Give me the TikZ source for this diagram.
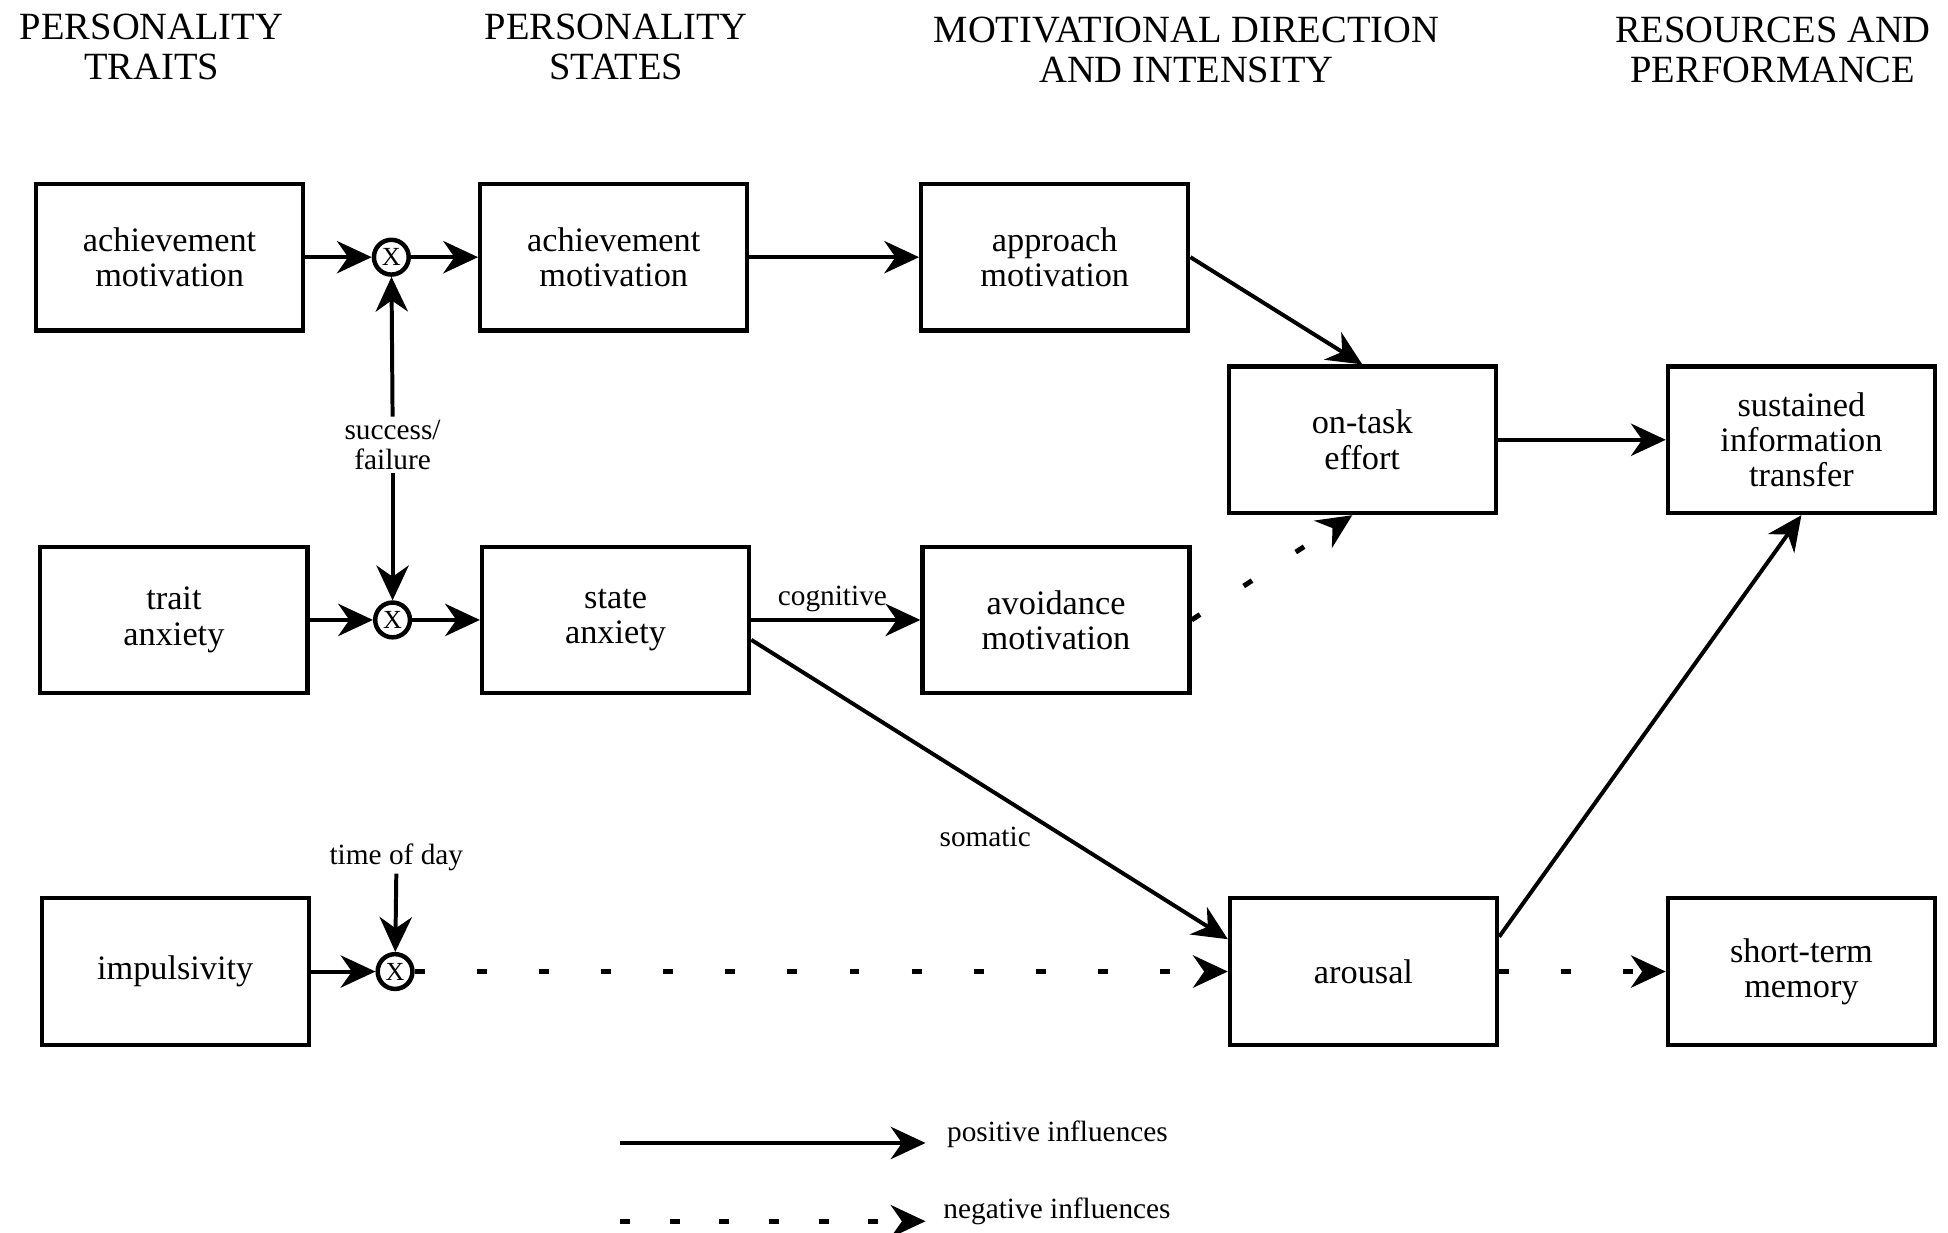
\documentclass[tikz,border=0pt]{standalone}
\usepackage{fontspec}
\setmainfont{Liberation Serif}
\usetikzlibrary{arrows.meta}
\newcommand\boxfont{\fontsize{13.8}{14.2}\selectfont}
\newcommand\headfont{\fontsize{15.5}{16}\selectfont}
\newcommand\labfont{\fontsize{11.8}{12.3}\selectfont}
\begin{document}
\begin{tikzpicture}[x=0.5pt,y=-0.5pt,
 box/.style={draw, line width=1.7pt, minimum width=107.5pt, minimum height=59pt, align=center, inner sep=0pt, font=\boxfont},
 head/.style={align=center, font=\headfont, inner sep=0pt},
 lab/.style={align=center, font=\labfont, inner sep=1pt},
 mult/.style={circle, draw, line width=1.8pt, minimum size=14pt, inner sep=0pt, font=\fontsize{10.5}{10.5}\selectfont},
 posarr/.style={line width=1.6pt, -{Stealth[length=14pt,width=13pt,inset=4.5pt]}},
 negarr/.style={posarr, line width=2pt, dash pattern=on 4pt off 21pt},
 negleg/.style={posarr, line width=2pt, dash pattern=on 4pt off 16pt},
]
\useasboundingbox (0,0) rectangle (1568,992);

% headers
\node[head] (h1) at (122,38) {PERSONALITY\\TRAITS};
\node[head] (h2) at (496,38) {PERSONALITY\\STATES};
\node[head] (h3) at (955,40) {MOTIVATIONAL DIRECTION\\AND INTENSITY};
\node[head] (h4) at (1427,40) {RESOURCES AND\\PERFORMANCE};

% boxes
\node[box] (A1) at (136.5,207) {achievement\\motivation};
\node[box] (A2) at (494,207) {achievement\\motivation};
\node[box] (AP) at (849,207) {approach\\motivation};
\node[box] (OT) at (1096.5,354) {on-task\\effort};
\node[box] (SI) at (1450,354) {sustained\\information\\transfer};
\node[box] (TA) at (140,499) {trait\\anxiety};
\node[box] (SA) at (495.5,499) {state\\anxiety};
\node[box] (AV) at (850,499) {avoidance\\motivation};
\node[box] (IM) at (141,782) {impulsivity};
\node[box] (AR) at (1097.5,782) {arousal};
\node[box] (ST) at (1450,782) {short-term\\memory};

% multipliers
\node[mult] (X1) at (315,207) {X};
\node[mult] (X2) at (316,499) {X};
\node[mult] (X3) at (318,782) {X};

% labels
\node[lab] (sf) at (316,358) {success/\\failure};
\node[lab] (td) at (319,690) {time of day};
\node[lab] (cog) at (670,482) {cognitive};
\node[lab] (som) at (793,674) {somatic};

% connectors
\draw[posarr] (A1) -- (X1);
\draw[posarr] (X1) -- (A2);
\draw[posarr] (TA) -- (X2);
\draw[posarr] (X2) -- (SA);
\draw[posarr] (IM) -- (X3);
\draw[posarr] (sf.north) -- (X1);
\draw[posarr] (sf.south) -- (X2);
\draw[posarr] (td.south) -- (X3);
\draw[negarr] (X3) -- (AR);
\draw[posarr] (A2) -- (AP);
\draw[posarr] (AP.east) -- (OT.north);
\draw[posarr] (SA) -- (AV);
\draw[posarr] ([yshift=-8pt]SA.east) -- ([yshift=13pt]AR.west);
\draw[negarr] (AV.east) -- ([xshift=-4pt]OT.south);
\draw[posarr] (OT) -- (SI);
\draw[posarr] ([yshift=14pt]AR.east) -- (SI.south);
\draw[negarr] (AR) -- (ST);

% legend
\coordinate (p1) at (499,920);
\coordinate (p2) at (745,920);
\coordinate (n1) at (499,983);
\coordinate (n2) at (745,983);
\node[lab, anchor=west] (pl) at (760,913) {positive influences};
\node[lab, anchor=west] (nl) at (757,975) {negative influences};
\draw[posarr] (p1) -- (p2);
\draw[negleg] (n1) -- (n2);
\end{tikzpicture}
\end{document}
